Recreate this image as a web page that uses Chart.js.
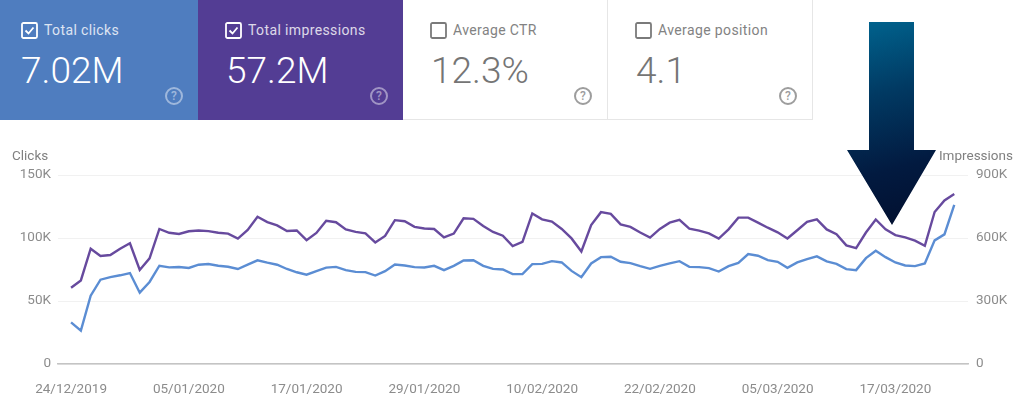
<!DOCTYPE html>
<html>
<head>
<meta charset="utf-8">
<title>Search performance</title>
<script src="https://cdn.jsdelivr.net/npm/chart.js@4/dist/chart.umd.min.js"></script>
<style>
html, body { margin: 0; padding: 0; background: #fff; }
body { width: 1024px; height: 416px; position: relative; overflow: hidden; font-family: Roboto, sans-serif; }
#chart { position: absolute; left: 0; top: 0; }
.card { position: absolute; top: 0; height: 120px; box-sizing: border-box; color: #fff; }
.card .name { position: absolute; left: 50px; top: 22px; font-size: 14px; line-height: 17px; opacity: .8; letter-spacing: .38px; }
.card .value { position: absolute; left: 21px; top: 49px; font-size: 37px; line-height: 44px; font-weight: 300; }
.card svg.box { position: absolute; left: 21px; top: 22px; }
.card .help { position: absolute; right: 15px; top: 87px; width: 14px; height: 14px; border: 2px solid currentColor; border-radius: 50%;
              font-size: 12px; line-height: 14px; text-align: center; opacity: .45; font-weight: 500; }
.plain { color: #7d7d7d; background: #fff; border-bottom: 1px solid #e6e6e6; border-right: 1px solid #e6e6e6; }
.plain .value { color: #757575; }
.plain .name { color: #757575; opacity: .9; }
.plain .help { opacity: .75; }
.axis-name { position: absolute; top: 148px; font-size: 13.5px; line-height: 15px; color: #808080; }
#arrow { position: absolute; left: 847px; top: 22px; width: 89px; height: 203px;
         background: linear-gradient(165deg, #006590 0%, #013a63 35%, #021a40 70%, #020f2e 100%);
         clip-path: polygon(22px 0, 67px 0, 67px 128px, 89px 128px, 45px 203px, 0 128px, 22px 128px); }
</style>
</head>
<body>
<canvas id="chart" width="1024" height="416"></canvas>

<div class="card" style="left:0;width:198px;background:#4f7dbf">
    <svg class="box" width="17" height="17" viewBox="0 0 17 17"><rect x="1" y="1" width="15" height="15" rx="1.5" fill="none" stroke="#fff" stroke-width="1.8"/><path d="M4.5 8.5l3 3 5-6" fill="none" stroke="#fff" stroke-width="1.8"/></svg>
    <div class="name" style="left:44px">Total clicks</div>
    <div class="value">7.02M</div>
    <div class="help">?</div>
</div>
<div class="card" style="left:198px;width:205px;background:#533d94">
    <svg class="box" width="17" height="17" viewBox="0 0 17 17" style="left:27px"><rect x="1" y="1" width="15" height="15" rx="1.5" fill="none" stroke="#fff" stroke-width="1.8"/><path d="M4.5 8.5l3 3 5-6" fill="none" stroke="#fff" stroke-width="1.8"/></svg>
    <div class="name">Total impressions</div>
    <div class="value" style="left:28px">57.2M</div>
    <div class="help">?</div>
</div>
<div class="card plain" style="left:403px;width:205px">
    <svg class="box" width="17" height="17" viewBox="0 0 17 17" style="left:27px"><rect x="1" y="1" width="15" height="15" rx="1.5" fill="none" stroke="#7a7a7a" stroke-width="1.8"/></svg>
    <div class="name">Average CTR</div>
    <div class="value" style="left:28px">12.3%</div>
    <div class="help">?</div>
</div>
<div class="card plain" style="left:608px;width:205px">
    <svg class="box" width="17" height="17" viewBox="0 0 17 17" style="left:27px"><rect x="1" y="1" width="15" height="15" rx="1.5" fill="none" stroke="#7a7a7a" stroke-width="1.8"/></svg>
    <div class="name">Average position</div>
    <div class="value" style="left:28px">4.1</div>
    <div class="help">?</div>
</div>

<div class="axis-name" style="left:12px">Clicks</div>
<div class="axis-name" style="right:11px">Impressions</div>
<div id="arrow"></div>

<script>
// global vars
go = {};

// daily values, one per day starting 24/12/2019
const clicks = [
    33.1, 26.5, 54.2, 66.9, 69.0, 70.4, 72.2, 56.6, 65.1, 78.0,
    76.7, 77.0, 76.2, 78.8, 79.4, 78.0, 77.2, 75.4, 78.8, 82.3,
    80.4, 78.8, 75.4, 72.8, 70.9, 73.8, 76.5, 77.1, 74.5, 73.1,
    72.9, 70.2, 73.7, 79.0, 78.2, 76.9, 76.6, 77.9, 74.5, 77.9,
    82.2, 82.4, 77.9, 75.5, 75.0, 71.3, 71.3, 79.3, 79.5, 81.6,
    80.6, 73.9, 68.9, 79.8, 84.8, 85.1, 81.1, 80.1, 77.7, 75.5,
    77.9, 79.8, 81.6, 77.1, 76.9, 76.1, 73.4, 77.7, 80.3, 87.2,
    85.9, 82.4, 81.1, 76.3, 80.6, 83.2, 85.4, 81.4, 79.5, 75.3,
    74.5, 84.0, 89.9, 84.8, 80.6, 78.2, 77.7, 79.8, 98.1, 102.9,
    126.3
];
const impressions = [
    363, 398, 549, 514, 519, 549, 575, 448, 503, 643,
    625, 619, 632, 636, 633, 625, 621, 597, 638, 701,
    676, 660, 633, 636, 590, 624, 682, 675, 641, 629,
    622, 579, 610, 685, 680, 653, 645, 643, 603, 621,
    694, 691, 657, 629, 611, 562, 582, 717, 689, 678,
    643, 598, 536, 662, 723, 715, 665, 653, 626, 602,
    643, 673, 686, 645, 635, 622, 597, 641, 697, 697,
    673, 649, 627, 598, 637, 677, 689, 641, 618, 565,
    552, 626, 688, 641, 614, 603, 587, 563, 724, 779,
    809
];
// x-axis labels, by day index
const dateLabels = {
    0: "24/12/2019", 12: "05/01/2020", 24: "17/01/2020", 36: "29/01/2020",
    48: "10/02/2020", 60: "22/02/2020", 72: "05/03/2020", 84: "17/03/2020"
};

document.addEventListener("DOMContentLoaded", e =>
{
    drawChart();
});

///////////////////////////////////////////////////////////////////////////////
function drawChart()
{
    let context = document.getElementById("chart").getContext("2d");
    let tickFont = { family: "Roboto", size: 13.5 };

    go.chart = new Chart(context,
    {
        type: "line",
        data:
        {
            datasets:
            [{
                data: impressions.map((v, i) => ({ x: i, y: v * 1000 })),
                yAxisID: "right",
                borderColor: "#674a9e",
                borderWidth: 2.4,
                pointRadius: 0,
                lineTension: 0
            },
            {
                data: clicks.map((v, i) => ({ x: i, y: v * 1000 })),
                yAxisID: "left",
                borderColor: "#5b8dd3",
                borderWidth: 2.4,
                pointRadius: 0,
                lineTension: 0
            }]
        },
        options:
        {
            responsive: false,
            animation: false,
            layout: { padding: { top: 175 } },
            plugins:
            {
                legend: { display: false },
                tooltip: { enabled: false }
            },
            scales:
            {
                x:
                {
                    type: "linear",
                    min: -1.33,
                    max: 91.4,
                    afterBuildTicks: axis =>
                    {
                        axis.ticks = Object.keys(dateLabels).map(k => ({ value: +k }));
                    },
                    afterFit: axis => { axis.height = 52; },
                    grid: { display: false },
                    border: { color: "#c4c4c4", width: 1.5 },
                    ticks:
                    {
                        autoSkip: false,
                        maxRotation: 0,
                        padding: 10,
                        color: "#8c8c8c",
                        font: tickFont,
                        callback: v => dateLabels[v]
                    }
                },
                left:
                {
                    position: "left",
                    min: 0,
                    max: 150000,
                    afterFit: axis => { axis.width = 58; },
                    grid: { color: "#f1f1f1", drawTicks: false },
                    border: { display: false },
                    ticks:
                    {
                        stepSize: 50000,
                        padding: 7,
                        color: "#8c8c8c",
                        font: tickFont,
                        callback: v => v == 0 ? "0" : (v / 1000) + "K"
                    }
                },
                right:
                {
                    position: "right",
                    min: 0,
                    max: 900000,
                    afterFit: axis => { axis.width = 56; },
                    grid: { display: false, drawTicks: false },
                    border: { display: false },
                    ticks:
                    {
                        stepSize: 300000,
                        padding: 8,
                        color: "#8c8c8c",
                        font: tickFont,
                        callback: v => v == 0 ? "0" : (v / 1000) + "K"
                    }
                }
            }
        }
    });
}
</script>
</body>
</html>
